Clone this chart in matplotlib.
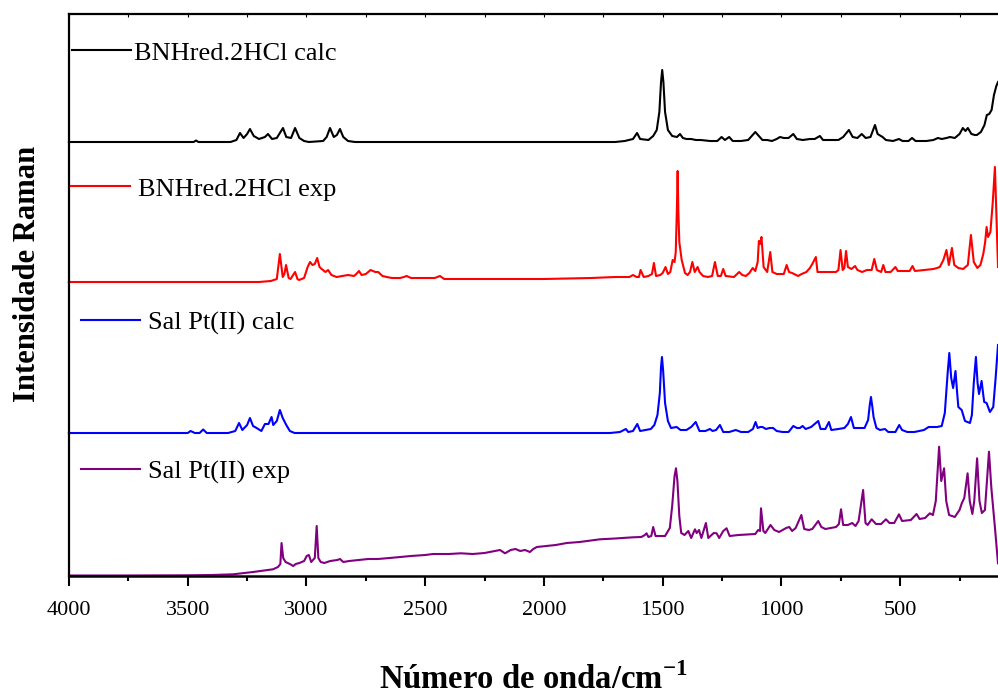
import matplotlib
matplotlib.use("Agg")
import matplotlib.pyplot as plt
from matplotlib.ticker import MultipleLocator, FixedLocator

plt.rcParams['font.family'] = ['Liberation Serif', 'DejaVu Serif']
plt.rcParams['mathtext.fontset'] = 'custom'
plt.rcParams['mathtext.rm'] = 'Liberation Serif'
plt.rcParams['mathtext.bf'] = 'Liberation Serif:bold'

# ---------------- data (wavenumber / cm-1, relative intensity) ----------------
labels = ["BNHred.2HCl calc", "BNHred.2HCl exp", "Sal Pt(II) calc", "Sal Pt(II) exp"]
colors = ["#000000", "#ff0000", "#0000ff", "#800080"]

bnh_calc_w = [4000, 3500, 3475, 3465, 3455, 3320, 3295, 3280, 3265, 3250, 3238, 3222, 3200, 3175, 3162, 3145,
              3125, 3099, 3085, 3065, 3048, 3030, 3010, 2990, 2930, 2915, 2901, 2885, 2872, 2859, 2845, 2825,
              2796, 2000, 1700, 1660, 1625, 1608, 1595, 1560, 1540, 1525, 1514, 1507, 1502, 1497, 1490, 1478,
              1460, 1440, 1427,
              1415, 1400, 1380, 1360, 1340, 1300, 1270, 1252, 1238, 1220, 1205, 1170, 1140, 1125, 1110, 1095,
              1080, 1060, 1040, 1020, 1006, 990, 970, 950, 935, 910, 880, 860, 838, 825, 790, 760, 740, 716,
              700, 680, 662, 645, 625, 606, 595, 574, 560, 530, 505, 490, 465, 450, 435, 390, 360, 341, 325,
              305, 290, 270, 250, 236, 225, 215, 200, 185, 177, 160, 145, 135, 125, 115, 105, 95, 88]
bnh_calc_i = [0, 0, 0, 1.5, 0, 0, 2, 9, 4, 8, 13, 6, 3, 5, 8, 3,
              4, 14, 5, 4, 14, 4, 1, 0, 1, 5, 14, 5, 7, 13, 5, 1,
              0, 0, 0, 1, 3, 9, 3, 2, 6, 12, 30, 60, 72, 60, 30, 12,
              6, 5, 8,
              4, 3, 3, 2, 2, 1, 1, 5, 2, 5, 1, 1, 2, 6, 10, 6,
              2, 2, 1, 3, 5, 4, 4, 8, 3, 2, 3, 3, 6, 2, 2, 2, 5, 12,
              5, 4, 8, 4, 5, 17, 8, 5, 2, 1, 3, 1, 1, 4, 1, 1, 2, 4, 3,
              4, 5, 4, 8, 14, 11, 14, 8, 7, 7, 10, 17, 27, 28, 32, 47, 56, 60]

bnh_exp_w = [4000, 3500, 3200, 3150, 3125, 3112, 3100, 3093, 3086, 3075, 3067, 3048, 3038, 3031, 3010, 2995,
             2985, 2975, 2965, 2955, 2945, 2936, 2920, 2909, 2895, 2873, 2850, 2825, 2800, 2790, 2779, 2768,
             2750, 2730, 2710, 2698, 2680, 2662, 2640, 2606, 2590, 2578, 2560, 2536, 2500, 2460, 2438, 2420,
             2300, 2185, 2000, 1800, 1700, 1640, 1625, 1610, 1600, 1593, 1580, 1560, 1545, 1537, 1528, 1510,
             1500, 1488, 1478, 1468, 1458, 1450, 1445, 1440, 1437, 1434, 1430, 1420, 1406, 1395, 1385, 1375,
             1365, 1353,
             1345, 1330, 1310, 1292, 1280, 1268, 1255, 1245, 1235, 1200, 1178, 1165, 1150, 1135, 1121, 1110,
             1100, 1095, 1090, 1084, 1075, 1060, 1047, 1038, 1020, 990, 978, 968, 955, 930, 915, 895, 880,
             870, 855, 848, 830, 800, 770, 760, 751, 742, 735, 728, 720, 705, 690, 680, 660, 640, 620, 609,
             598, 580, 571, 562, 540, 520, 510, 480, 460, 448, 438, 400, 360, 345, 333, 318, 305, 295, 282,
             272, 255, 235, 215, 202, 190, 175, 162, 150, 142, 136, 130, 120, 110, 101, 95, 88]
bnh_exp_i = [0, 0, 0, 1, 3, 28, 5, 8, 17, 4, 3, 10, 3, 2, 4, 15,
             20, 17, 18, 24, 15, 13, 10, 12, 7, 5, 6, 7, 6, 8, 11, 7,
             8, 12, 10, 10, 6, 5, 4, 4, 5, 6, 4, 4, 4, 4, 6, 3,
             3, 3, 3, 4, 5, 5, 7, 5, 5, 12, 5, 6, 8, 19, 6, 7,
             9, 15, 8, 10, 22, 20, 30, 75, 111, 70, 40, 22, 9, 7, 10, 20,
             10, 15,
             10, 6, 5, 6, 20, 6, 6, 13, 6, 5, 10, 7, 6, 9, 14, 11,
             20, 41, 38, 45, 15, 10, 30, 10, 8, 8, 17, 10, 9, 6, 8, 10, 14,
             18, 25, 10, 10, 10, 10, 12, 32, 12, 14, 31, 15, 13, 16, 12, 10, 12, 12, 23,
             12, 10, 17, 10, 10, 15, 11, 11, 11, 16, 11, 12, 13, 14, 15, 22, 32, 17, 34,
             17, 14, 13, 17, 47, 20, 14, 17, 28, 40, 55, 45, 50, 80, 115, 70, 15]

pt_calc_w = [4000, 3600, 3500, 3488, 3470, 3450, 3435, 3420, 3330, 3300, 3284, 3270, 3250, 3238, 3225, 3210,
             3190, 3175, 3160, 3147, 3140, 3125, 3112, 3100, 3085, 3070, 3050, 2900, 1800, 1722, 1680, 1655,
             1645, 1625, 1607, 1595, 1550, 1535, 1522, 1512, 1507, 1503, 1498, 1490, 1478, 1465, 1441, 1425,
             1400, 1380, 1361,
             1345, 1320, 1301, 1290, 1275, 1259, 1245, 1220, 1192, 1170, 1140, 1120, 1109, 1100, 1090, 1080,
             1065, 1050, 1035, 1020, 995, 970, 950, 935, 922, 911, 898, 875, 860, 845, 835, 815, 800, 790,
             760, 735, 720, 707, 695, 670, 650, 635, 628, 623, 617, 612, 600, 585, 564, 550, 520, 504, 492,
             470, 440,
             400, 380, 345, 325, 312, 300, 293, 285, 277, 267, 260, 255, 241, 227, 206, 198, 190, 181, 174,
             168, 157, 150, 146, 136, 122, 108, 98, 88]
pt_calc_i = [0, 0, 0, 2, 0, 0, 3.5, 0, 0, 2, 10, 3, 8, 15, 7, 5,
             2, 9, 9, 16, 8, 12, 23, 15, 8, 2, 0, 0, 0, 0, 1, 4,
             1, 2, 9, 2, 4, 8, 18, 40, 66, 76, 62, 30, 12, 5, 6, 3,
             3, 6, 11,
             2, 2, 4, 2, 3, 8, 1, 1, 3, 1, 1, 4, 11, 5, 6, 6,
             4, 5, 5, 2, 1, 1, 7, 5, 5, 7, 4, 6, 9, 12, 4, 4, 11, 3,
             4, 5, 9, 16, 5, 5, 5, 13, 28, 36, 26, 16, 5, 3, 4, 1, 1, 8, 3,
             1, 1,
             3, 6, 6, 7, 20, 60, 80, 55, 45, 62, 40, 26, 23, 12, 10, 18, 50, 76, 50,
             39, 52, 38, 31, 30, 21, 26, 55, 88]

pt_exp_w = [4000, 3800, 3504, 3400, 3309, 3225, 3141, 3120, 3110, 3105, 3098, 3088, 3070, 3056, 3045, 3030,
            3010, 2999, 2990, 2980, 2965, 2957, 2950, 2940, 2925, 2900, 2870, 2859, 2845, 2820, 2780, 2740,
            2700, 2650, 2606, 2560, 2500, 2467, 2400, 2350, 2300, 2250, 2185, 2164, 2140, 2120, 2100, 2080,
            2059, 2045, 2030, 1950, 1904, 1850, 1764, 1700, 1625, 1590, 1575, 1568, 1560, 1548, 1540, 1530,
            1490, 1470, 1460, 1450, 1444, 1438, 1430, 1422, 1408, 1392, 1380, 1364, 1357, 1347, 1337, 1318,
            1308, 1285,
            1273, 1262, 1245, 1231, 1218, 1180, 1110, 1098, 1090, 1086, 1076, 1068, 1046, 1030, 1010, 980,
            967, 955, 940, 916, 904, 885, 870, 845, 832, 815, 770, 758, 749, 740, 720, 702, 688, 675, 656,
            646, 637, 620, 602, 580, 560, 545, 525, 505, 492, 455, 431, 418, 395, 375, 362, 350, 336, 327,
            315, 306, 294, 270, 250, 240, 230, 216, 207, 196, 188, 176, 166, 156, 143, 126, 116, 100, 88]
pt_exp_i = [0.5, 0.5, 0.7, 1, 1.7, 4, 6.7, 9, 12, 33, 18, 14, 12, 10, 12, 13,
            15, 20, 21, 14, 18, 50, 18, 14, 13, 15, 16, 17, 14, 15, 16, 17,
            17, 18, 19, 20, 21, 22, 22, 22.7, 22, 23, 26, 22.7, 26, 27, 25, 26,
            24, 27, 29, 31, 33, 34, 36.7, 37.5, 38.7, 39, 41, 42.7, 39, 40, 49, 40,
            40, 48, 70, 100, 107.7, 95, 60, 43, 41, 45, 38, 46.7, 43, 46, 38, 53,
            38, 43,
            42.7, 38, 45, 47.7, 40, 41, 42, 46, 45, 67.7, 45, 43, 51, 46, 44, 48,
            49, 45, 48, 61, 47, 46, 47, 55, 49, 47, 49, 52, 66.7, 51, 51, 53, 50, 55, 86,
            53, 51, 56.7, 52, 52, 56.7, 53, 53, 61.7, 55, 56, 62, 57, 58, 62.7, 61, 75, 129.3, 95,
            107.7, 75, 61, 59, 66, 73, 78, 102.7, 75, 62, 75, 117.7, 75, 63, 66, 124.3, 88, 46, 12.7]

series_w = [bnh_calc_w, bnh_exp_w, pt_calc_w, pt_exp_w]
series_i = [bnh_calc_i, bnh_exp_i, pt_calc_i, pt_exp_i]

x_ticks = [4000, 3500, 3000, 2500, 2000, 1500, 1000, 500]
x_tick_labels = ["4000", "3500", "3000", "2500", "2000", "1500", "1000", "500"]

# ---------------- layout (pixel-based) ----------------
W, H = 998, 698
fig = plt.figure(figsize=(W / 100, H / 100), dpi=100)
x_left, x_right = 69, 998
panels = [(14, 142), (142, 282), (282, 433), (433, 576)]
legend_pos = [(72, 53, 0.10), (71, 189, 0.27), (81, 323, 0.27), (81, 472, 0.27)]

axes = []
for k, (top, bot) in enumerate(panels):
    ax = fig.add_axes([x_left / W, 1 - bot / H, (x_right - x_left) / W, (bot - top) / H])
    ax.set_xlim(4000, 88)
    ax.set_ylim(0, bot - top)
    ax.patch.set_alpha(0)
    line, = ax.plot(series_w[k], series_i[k], color=colors[k], lw=1.5, clip_on=False,
                    solid_joinstyle='round', label=labels[k])
    ax.spines['right'].set_visible(False)
    ax.spines['top'].set_visible(k == 0)
    ax.spines['bottom'].set_visible(k == 3)
    ax.spines['left'].set_linewidth(1.6)
    ax.spines['top'].set_linewidth(1.6)
    ax.spines['bottom'].set_linewidth(1.8)
    ax.set_yticks([])
    if k == 3:
        ax.xaxis.set_major_locator(FixedLocator(x_ticks))
        ax.set_xticklabels(x_tick_labels)
        ax.xaxis.set_minor_locator(MultipleLocator(250))
        ax.tick_params(axis='x', which='major', direction='out', length=7, width=1.5,
                       labelsize=16, pad=11)
        ax.tick_params(axis='x', which='minor', direction='out', length=3.5, width=1.5)
        ax.set_xlabel('Número de onda/cm$^{\\mathbf{-1}}$', fontsize=23.5, fontweight='bold',
                      labelpad=31)
    elif k == 0:
        ax.xaxis.set_major_locator(MultipleLocator(250))
        ax.tick_params(axis='x', which='both', top=True, bottom=False, labeltop=False,
                       labelbottom=False, direction='in', length=2, width=0.8)
    else:
        ax.set_xticks([])
    lx, ly, pad = legend_pos[k]
    ax.legend(handles=[line], loc='center left', bbox_to_anchor=(lx / W, 1 - ly / H),
              bbox_transform=fig.transFigure, frameon=False, fontsize=19,
              handlelength=2.25, handletextpad=pad, borderpad=0, borderaxespad=0)
    axes.append(ax)

fig.text(28 / W, 1 - 274 / H, 'Intensidade Raman', rotation=90, ha='center', va='center',
         fontsize=22, fontweight='bold')

fig.savefig('out.png', dpi=100)
